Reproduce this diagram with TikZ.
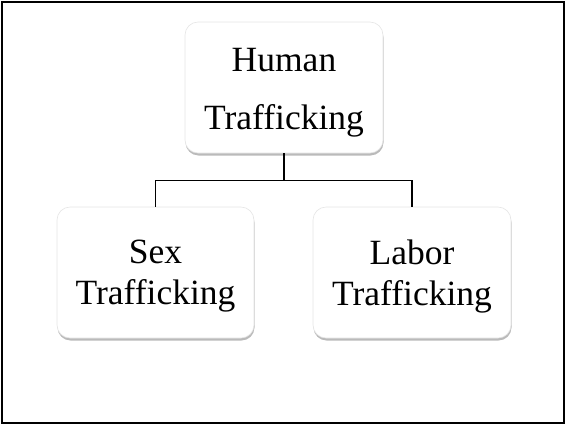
\documentclass[tikz,border=0pt]{standalone}
\usepackage{fontspec}
\setmainfont{Liberation Serif}
\usetikzlibrary{shadows}
\begin{document}
\begin{tikzpicture}[x=1pt,y=1pt,
  box/.style={draw=black!10, line width=0.6pt, fill=white, rounded corners=13pt,
    minimum width=197pt, minimum height=131pt, inner sep=0pt,
    drop shadow={shadow xshift=0.5pt, shadow yshift=-2.5pt, opacity=0.45, fill=black!60}},
  toplabel/.style={font=\fontsize{35.5}{58}\selectfont, align=center, inner sep=0pt},
  botlabel/.style={font=\fontsize{35.5}{41}\selectfont, align=center, inner sep=0pt},
  conn/.style={draw=black, line width=1.3pt}]
\useasboundingbox (0,0) rectangle (565,-424);
\draw[line width=1.6pt] (2,-2) rectangle (564,-423.2);
\node[box, minimum width=198pt] (top) at (284,-87.5) {};
\node[box] (sex) at (155.5,-272.5) {};
\node[box, minimum width=198pt] (labor) at (412,-272.5) {};
\node[toplabel] (toptext) at ([yshift=-5.6pt]top.center) {Human\\Trafficking};
\node[botlabel] (sextext) at ([yshift=-4pt]sex.center) {Sex\\Trafficking};
\node[botlabel] (labortext) at ([yshift=-4pt]labor.center) {Labor\\Trafficking};
\coordinate (mid) at ([yshift=-27pt]top.south);
\draw[conn] (top.south) -- (mid) -| (sex.north);
\draw[conn] (mid) -| (labor.north);
\end{tikzpicture}
\end{document}
